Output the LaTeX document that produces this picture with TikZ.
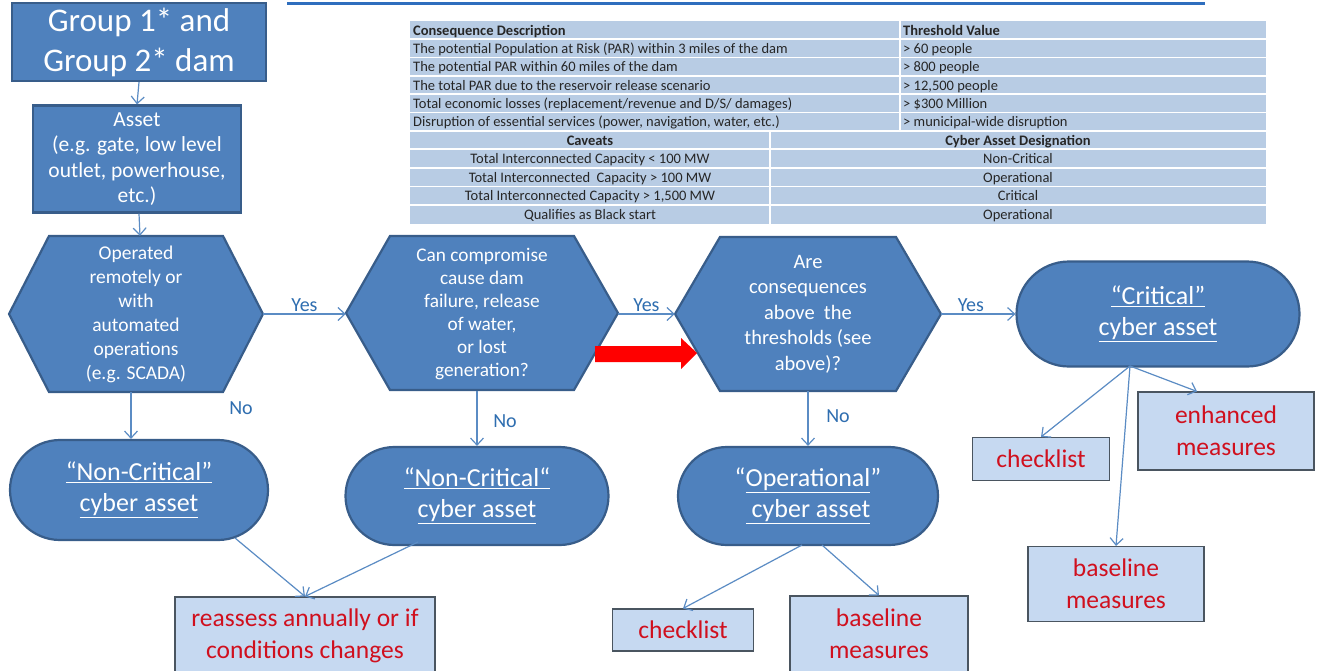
\documentclass[tikz,border=0pt]{standalone}
\usepackage{fontspec}
\setmainfont{Carlito}
\usetikzlibrary{shapes.misc,arrows.meta}
\definecolor{shapeblue}{HTML}{4F81BD}
\definecolor{shapeedge}{HTML}{385D8A}
\definecolor{linkblue}{HTML}{5B8CC4}
\definecolor{labelblue}{HTML}{2F6EB0}
\definecolor{lightbox}{HTML}{C6D9F1}
\definecolor{boxedge}{HTML}{4A5560}
\definecolor{redtext}{HTML}{D0101E}
\definecolor{tablefill}{HTML}{B8CCE4}
\definecolor{titleblue}{HTML}{2E6EBE}
\newcommand\hexshape[5]{\filldraw[hexfill] (#1-#3,#2) -- (#1-#3+#5,#2-#4) -- (#1+#3-#5,#2-#4) -- (#1+#3,#2) -- (#1+#3-#5,#2+#4) -- (#1-#3+#5,#2+#4) -- cycle;}
\begin{document}
\begin{tikzpicture}[x=1pt,y=-1pt,
  flowbox/.style={draw=shapeedge, fill=shapeblue, line width=2.2pt, text=white, align=center, inner sep=0pt},
  hexfill/.style={draw=shapeedge, fill=shapeblue, line width=2.2pt},
  hexnode/.style={inner sep=0pt, text=white, align=center},
  term/.style={rounded rectangle, draw=shapeedge, fill=shapeblue, line width=2.2pt, text=white, align=center, inner sep=0pt, font=\fontsize{26}{31}\selectfont},
  lbox/.style={draw=boxedge, fill=lightbox, line width=1.1pt, text=redtext, align=center, inner sep=0pt, font=\fontsize{25.5}{32}\selectfont},
  link/.style={draw=linkblue, line width=1.2pt, -{Straight Barb[length=7pt,width=13pt]}},
  lbl/.style={text=labelblue, font=\fontsize{20}{22}\selectfont, inner sep=2pt},
  tcell/.style={inner sep=0pt, text height=11.5pt, text depth=1.5pt, font=\fontsize{14.5}{16}\selectfont, text=black!85},
  thead/.style={tcell, font=\fontsize{14.5}{16}\selectfont\bfseries}
]
\useasboundingbox (0,0) rectangle (1320,670);
\fill[white] (0,0) rectangle (1320,670);

% cut-off title underline
\draw[titleblue, line width=3pt] (287,3) -- (1205,3);

% table
\fill[tablefill] (410,21) rectangle (1266,224);
\foreach \yy in {39,57.5,76,94,112.5,131,149,168,186.5,205}
  \draw[white, line width=1.3pt] (410,\yy) -- (1266,\yy);
\draw[white, line width=1.3pt] (900,21) -- (900,131);
\draw[white, line width=1.3pt] (770,131) -- (770,224);
\node[thead, anchor=west] at (413,30) {Consequence Description};
\node[tcell, anchor=west] at (413,48) {The potential Population at Risk (PAR) within 3 miles of the dam};
\node[tcell, anchor=west] at (413,66.5) {The potential PAR within 60 miles of the dam};
\node[tcell, anchor=west] at (413,85) {The total PAR due to the reservoir release scenario};
\node[tcell, anchor=west] at (413,103) {Total economic losses (replacement/revenue and D/S/ damages)};
\node[tcell, anchor=west] at (413,121.5) {Disruption of essential services (power, navigation, water, etc.)};
\node[thead, anchor=west] at (903,30) {Threshold Value};
\node[tcell, anchor=west] at (903,48) {> 60 people};
\node[tcell, anchor=west] at (903,66.5) {> 800 people};
\node[tcell, anchor=west] at (903,85) {> 12,500 people};
\node[tcell, anchor=west] at (903,103) {> \$300 Million};
\node[tcell, anchor=west] at (903,121.5) {> municipal-wide disruption};
\node[thead] at (590,140) {Caveats};
\node[tcell] at (590,158.5) {Total Interconnected Capacity < 100 MW};
\node[tcell] at (590,177) {Total Interconnected\ \ Capacity > 100 MW};
\node[tcell] at (590,195.5) {Total Interconnected Capacity > 1,500 MW};
\node[tcell] at (590,214.5) {Qualifies as Black start};
\node[thead] at (1018,140) {Cyber Asset Designation};
\node[tcell] at (1018,158.5) {Non-Critical};
\node[tcell] at (1018,177) {Operational};
\node[tcell] at (1018,195.5) {Critical};
\node[tcell] at (1018,214.5) {Operational};

% boxes
\node[flowbox, minimum width=254pt, minimum height=78pt, font=\fontsize{33}{40}\selectfont] (group) at (139,42) {Group 1* and\\Group 2* dam};
\node[flowbox, minimum width=208pt, minimum height=107pt, font=\fontsize{21.5}{25.5}\selectfont] (asset) at (137,159) {Asset\\(e.g. gate, low level\\outlet, powerhouse,\\etc.)};

% hexagons
\hexshape{136}{314}{127}{78}{40}
\node[hexnode, minimum width=254pt, minimum height=156pt, font=\fontsize{19.5}{24}\selectfont] (h1) at (136,314) {Operated\\remotely or\\with\\automated\\operations\\(e.g. SCADA)};
\hexshape{482}{313}{136}{77}{44}
\node[hexnode, minimum width=272pt, minimum height=154pt, font=\fontsize{19.3}{23}\selectfont] (h2) at (482,314) {Can compromise\\cause dam\\failure, release\\of water,\\or lost\\generation?};
\hexshape{808}{314}{133}{77}{45}
\node[hexnode, minimum width=266pt, minimum height=154pt, font=\fontsize{20.5}{25.5}\selectfont] (h3) at (808,314) {Are\\consequences\\above\ \ the\\thresholds (see\\above)?};

% terminators
\node[term, minimum width=283pt, minimum height=105pt] (crit) at (1158,314) {\underline{“Critical”}\\\underline{cyber asset}};
\node[term, minimum width=258pt, minimum height=100pt] (nc1) at (139,490) {\underline{“Non-Critical”}\\\underline{cyber asset}};
\node[term, minimum width=263pt, minimum height=98pt] (nc2) at (477,496) {\underline{“Non-Critical“}\\\underline{cyber asset}};
\node[term, minimum width=260pt, minimum height=98pt] (op) at (808,496) {“\underline{Operational}”\\\underline{ cyber asset}};

% light boxes
\node[lbox, minimum width=260pt, minimum height=78pt] (reas) at (305,636) {reassess annually or if\\conditions changes};
\node[lbox, minimum width=141pt, minimum height=42pt] (chko) at (683,630) {checklist};
\node[lbox, minimum width=178pt, minimum height=76pt] (baso) at (879,634) {baseline\\measures};
\node[lbox, minimum width=137pt, minimum height=43pt] (chkc) at (1041,459) {checklist};
\node[lbox, minimum width=176pt, minimum height=78pt] (enh) at (1226,431) {enhanced\\measures};
\node[lbox, minimum width=176pt, minimum height=75pt] (basc) at (1116,584) {baseline\\measures};

% connectors
\draw[link] (group.south) -- (asset.south |- asset.north);
\draw[link] ([xshift=2pt]asset.south) -- ([xshift=4pt]h1.north);
\draw[link] (h1.east) -- node[lbl, anchor=south] {Yes} (h2.west);
\draw[link] (h2.east) -- node[lbl, anchor=south] {Yes} (h3.west);
\draw[link] (h3.east) -- node[lbl, anchor=south, pos=0.4] {Yes} (crit.west);
\draw[link] ([xshift=-5pt]h1.south) -- node[lbl, pos=0.35, xshift=110pt] {No} ([xshift=-5pt]h1.south |- nc1.north);
\draw[link] ([xshift=-5pt]h2.south) -- node[lbl, pos=0.55, xshift=28pt] {No} ([xshift=-5pt]h2.south |- nc2.north);
\draw[link] (h3.south) -- node[lbl, pos=0.45, xshift=30pt] {No} (op.north);

\coordinate (nc1o) at (235,538);
\coordinate (nc2o) at (418,542);
\draw[link] (nc1o) -- (reas.north);
\draw[link] (nc2o) -- (reas.north);
\coordinate (opo1) at (802,545);
\coordinate (opo2) at (822,545);
\draw[link] (opo1) -- (chko.north);
\draw[link] (opo2) -- (baso.north);
\coordinate (crito) at (1130,366);
\draw[link] (crito) -- (chkc.north);
\draw[link] (crito) -- (basc.north);
\draw[link] (crito) -- ([xshift=-29pt]enh.north);

% red highlight arrow
\fill[red] (595,346) -- (681,346) -- (681,338) -- (697,353) -- (681,369) -- (681,362) -- (595,362) -- cycle;
\end{tikzpicture}
\end{document}
